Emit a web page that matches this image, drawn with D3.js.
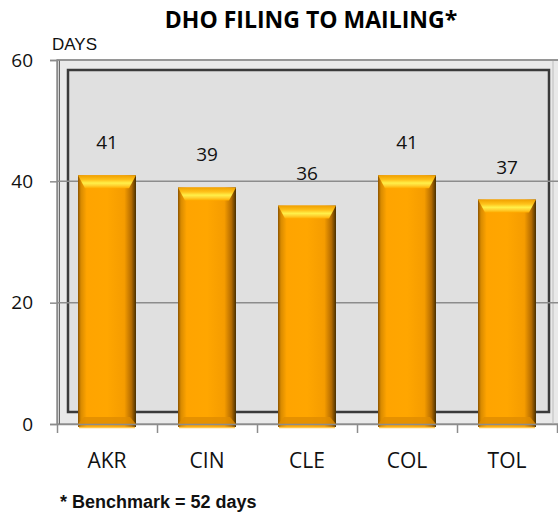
<!DOCTYPE html>
<meta charset="utf-8">
<style>
body { margin: 0; background: #fff; }
svg { display: block; }
.tick text { font-family: "Open Sans", sans-serif; }
</style>
<svg width="558" height="515"></svg>
<script src="https://d3js.org/d3.v7.min.js"></script>
<script>

// data
var offices = ["AKR", "CIN", "CLE", "COL", "TOL"];
var days = [41, 39, 36, 41, 37];
var yTicks = [0, 20, 40, 60];
var chartTitle = "DHO FILING TO MAILING*";
var yTitle = "DAYS";
var footnote = "* Benchmark = 52 days";

var svg = d3.select("svg"),
    width = +svg.attr("width"),
    height = +svg.attr("height");

var plotLeft = 57, plotRight = 557, plotTop = 60, plotBottom = 424;

var x = d3.scaleBand()
    .domain(offices)
    .range([plotLeft, plotRight])
    .paddingInner(0.42)
    .paddingOuter(0.21);

var xb = d3.scaleLinear().domain([0, offices.length]).range([plotLeft, plotRight]);

var y = d3.scaleLinear().domain([0, 60]).range([plotBottom, plotTop]);

var defs = svg.append("defs");

var side = defs.append("linearGradient").attr("id", "barSide")
    .attr("x1", "0%").attr("x2", "100%").attr("y1", "0%").attr("y2", "0%");
[["0%", "#8a5200"], ["5%", "#d88a00"], ["15%", "#ffa400"], ["50%", "#ffa600"],
 ["80%", "#f59c00"], ["92%", "#b56c00"], ["100%", "#4a3000"]].forEach(function(s) {
  side.append("stop").attr("offset", s[0]).attr("stop-color", s[1]);
});

var topG = defs.append("linearGradient").attr("id", "barTop")
    .attr("x1", "0%").attr("x2", "0%").attr("y1", "0%").attr("y2", "100%");
[["0%", "#f0a000"], ["35%", "#ffc21a"], ["60%", "#fff04a"], ["80%", "#ffd030"], ["100%", "#ffac00"]].forEach(function(s) {
  topG.append("stop").attr("offset", s[0]).attr("stop-color", s[1]);
});

// plot frame (outer floor band + back wall)
svg.append("rect")
    .attr("x", plotLeft).attr("y", plotTop)
    .attr("width", width - plotLeft + 2).attr("height", plotBottom - plotTop)
    .attr("fill", "#e9e9e9")
    .attr("stroke", "#9a9a9a").attr("stroke-width", 1.5);

svg.append("line")
    .attr("x1", plotLeft + 2.5).attr("x2", plotLeft + 2.5)
    .attr("y1", plotTop).attr("y2", plotBottom)
    .attr("stroke", "#6a6a6a");

svg.append("line")
    .attr("x1", width - 5).attr("x2", width - 5)
    .attr("y1", plotTop).attr("y2", plotBottom)
    .attr("stroke", "#bdbdbd");

svg.append("rect")
    .attr("x", 68).attr("y", 70)
    .attr("width", 481).attr("height", 342)
    .attr("fill", "#e0e0e0")
    .attr("stroke", "#3a3a3a").attr("stroke-width", 2.5);

// gridlines
svg.append("g")
  .selectAll("line")
  .data(yTicks.filter(function(d) { return d > 0; }))
  .enter().append("line")
    .attr("x1", plotLeft).attr("x2", width)
    .attr("y1", function(d) { return y(d); })
    .attr("y2", function(d) { return y(d); })
    .attr("stroke", "#8c8c8c")
    .attr("stroke-width", 1.5);

// bars
var bar = svg.append("g")
  .selectAll("g")
  .data(offices)
  .enter().append("g");

bar.append("rect")
    .attr("x", function(d) { return x(d); })
    .attr("y", function(d, i) { return y(days[i]); })
    .attr("width", x.bandwidth())
    .attr("height", function(d, i) { return y(0) - y(days[i]) + 3; })
    .attr("fill", "url(#barSide)");

bar.append("path")
    .attr("d", function(d, i) {
      var x0 = x(d), x1 = x(d) + x.bandwidth(), t = y(days[i]);
      return "M" + x0 + "," + t + "L" + x1 + "," + t +
             "L" + (x1 - 7) + "," + (t + 13) + "L" + (x0 + 7) + "," + (t + 13) + "Z";
    })
    .attr("fill", "url(#barTop)");

bar.append("path")
    .attr("d", function(d) {
      var x0 = x(d), x1 = x(d) + x.bandwidth(), b = y(0);
      return "M" + (x0 + 6) + "," + (b - 7) + "L" + (x1 - 6) + "," + (b - 7) +
             "L" + x1 + "," + b + "L" + x0 + "," + b + "Z";
    })
    .attr("fill", "#e08c00")
    .attr("opacity", 0.8);

bar.append("line")
    .attr("x1", function(d) { return x(d) + 1; })
    .attr("x2", function(d) { return x(d) + x.bandwidth() - 1; })
    .attr("y1", y(0) + 3.5).attr("y2", y(0) + 3.5)
    .attr("stroke", "#ffc44a")
    .attr("stroke-width", 1.5);

// value labels
bar.append("text")
    .attr("x", function(d) { return x(d) + x.bandwidth() / 2; })
    .attr("y", function(d, i) { return y(days[i]) - 26; })
    .attr("text-anchor", "middle")
    .style("font-family", "'Open Sans', sans-serif")
    .style("font-size", "19px")
    .attr("fill", "#111")
    .text(function(d, i) { return days[i]; });

// y axis
var yAxis = svg.append("g")
    .attr("transform", "translate(" + plotLeft + ",0)")
    .call(d3.axisLeft(y).tickValues(yTicks).tickSize(7).tickPadding(17));
yAxis.select(".domain").attr("stroke", "#8c8c8c").attr("stroke-width", 1.5);
yAxis.selectAll(".tick line").attr("stroke", "#8c8c8c").attr("stroke-width", 1.5);
yAxis.selectAll(".tick text").style("font-size", "19px").attr("fill", "#111");

// x axis
var xAxis = svg.append("g")
    .attr("transform", "translate(0," + plotBottom + ")")
    .call(d3.axisBottom(xb).ticks(offices.length).tickFormat("").tickSize(9).tickSizeOuter(0));
xAxis.select(".domain").attr("stroke", "#8c8c8c").attr("stroke-width", 1.5)
    .attr("d", "M" + plotLeft + ",0.5H" + width);
xAxis.selectAll(".tick line").attr("stroke", "#8c8c8c").attr("stroke-width", 1.5);

svg.append("g")
  .selectAll("text")
  .data(offices)
  .enter().append("text")
    .attr("x", function(d) { return x(d) + x.bandwidth() / 2; })
    .attr("y", 468)
    .attr("text-anchor", "middle")
    .style("font-family", "'Open Sans', sans-serif")
    .style("font-size", "21px")
    .attr("fill", "#111")
    .text(function(d) { return d; });

// titles
svg.append("text")
    .attr("x", 311).attr("y", 28)
    .attr("text-anchor", "middle")
    .style("font-family", "'Open Sans', sans-serif")
    .style("font-weight", "bold")
    .style("font-size", "23px")
    .attr("fill", "#000")
    .text(chartTitle);

svg.append("text")
    .attr("x", 52).attr("y", 50)
    .style("font-family", "'Liberation Sans', Arial, sans-serif")
    .style("font-size", "17px")
    .attr("fill", "#111")
    .text(yTitle);

svg.append("text")
    .attr("x", 60).attr("y", 508)
    .style("font-family", "'Liberation Sans', Arial, sans-serif")
    .style("font-weight", "bold")
    .style("font-size", "18px")
    .attr("fill", "#111")
    .text(footnote);

</script>
